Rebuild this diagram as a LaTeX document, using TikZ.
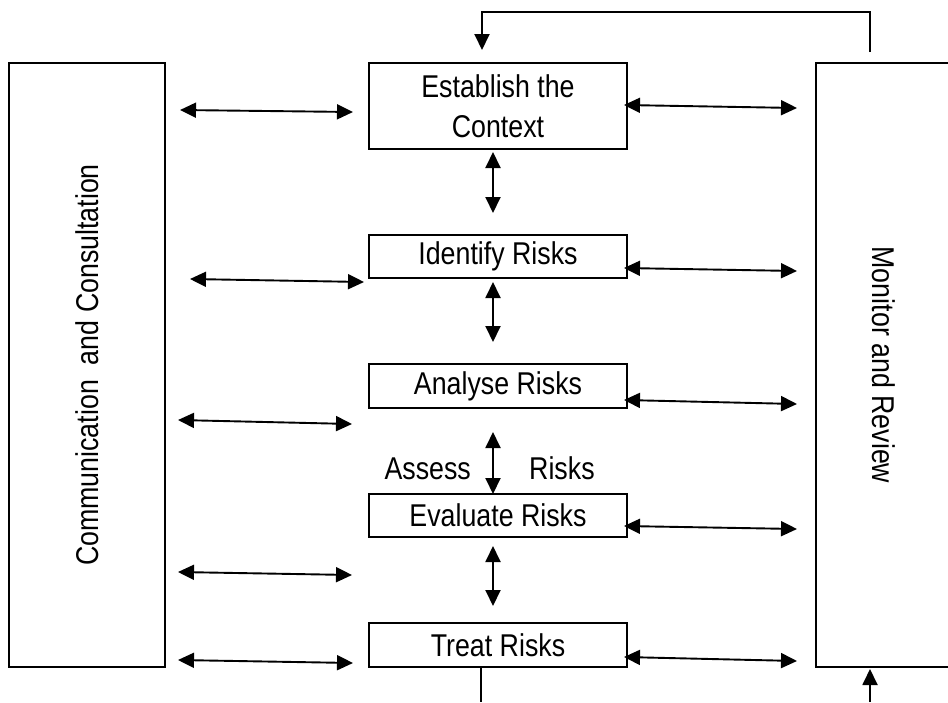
\documentclass[tikz,border=0pt]{standalone}
\usepackage{fontspec}
\setmainfont{Liberation Sans}[FakeStretch=0.85]
\usetikzlibrary{arrows.meta}
\begin{document}
\begin{tikzpicture}[x=1pt,y=-1pt,
  box/.style={draw, line width=1.2pt, inner sep=0pt, align=center, font=\fontsize{31.5}{40}\selectfont},
  lbl/.style={inner sep=0pt, font=\fontsize{31.5}{40}\selectfont},
  arr/.style={line width=1.9pt, {Triangle[length=16pt,width=15pt]}-{Triangle[length=16pt,width=15pt]}},
  onearr/.style={line width=1.9pt, -{Triangle[length=16pt,width=15pt]}},
  plain/.style={line width=1.9pt}]
\useasboundingbox (0,0) rectangle (948,702);
% side boxes
\node[box, rotate=90, minimum width=604pt, minimum height=156pt] (cc) at (87,365) {Communication\ \ and Consultation};
\node[box, rotate=-90, minimum width=604pt, minimum height=136pt] (mr) at (884,365) {Monitor and Review};
% process boxes
\node[box, minimum width=258pt, minimum height=86pt] (est) at (498,106) {Establish the\\Context};
\node[box, minimum width=258pt, minimum height=43pt] (idf) at (498,256.5) {Identify Risks};
\node[box, minimum width=258pt, minimum height=44pt] (ana) at (498,386) {Analyse Risks};
\node[box, minimum width=258pt, minimum height=43pt] (eva) at (498,515.5) {Evaluate Risks};
\node[box, minimum width=258pt, minimum height=44pt] (tre) at (498,645) {Treat Risks};
% assess risks label
\node[lbl, anchor=base east] (assess) at (471,479) {Assess};
\node[lbl, anchor=base west] (risks) at (529,479) {Risks};
% left arrows
\coordinate (l1a) at (180,110); \coordinate (l1b) at (353,112);
\coordinate (l2a) at (190,279); \coordinate (l2b) at (364,282);
\coordinate (l3a) at (178,420); \coordinate (l3b) at (352,424);
\coordinate (l4a) at (178,572); \coordinate (l4b) at (352,575);
\coordinate (l5a) at (178,660); \coordinate (l5b) at (353,663);
\draw[arr] (l1a) -- (l1b);
\draw[arr] (l2a) -- (l2b);
\draw[arr] (l3a) -- (l3b);
\draw[arr] (l4a) -- (l4b);
\draw[arr] (l5a) -- (l5b);
% right arrows
\coordinate (r1a) at (624,105); \coordinate (r1b) at (797,108);
\coordinate (r2a) at (624,268); \coordinate (r2b) at (797,271);
\coordinate (r3a) at (624,400); \coordinate (r3b) at (797,404);
\coordinate (r4a) at (624,526); \coordinate (r4b) at (797,529);
\coordinate (r5a) at (624,657); \coordinate (r5b) at (797,661);
\draw[arr] (r1a) -- (r1b);
\draw[arr] (r2a) -- (r2b);
\draw[arr] (r3a) -- (r3b);
\draw[arr] (r4a) -- (r4b);
\draw[arr] (r5a) -- (r5b);
% vertical arrows
\coordinate (v1a) at (493,152); \coordinate (v1b) at (493,213);
\coordinate (v2a) at (493,282); \coordinate (v2b) at (493,342);
\coordinate (v3a) at (493,432); \coordinate (v3b) at (493,494);
\coordinate (v4a) at (493,546); \coordinate (v4b) at (493,606);
\draw[arr] (v1a) -- (v1b);
\draw[arr] (v2a) -- (v2b);
\draw[arr] (v3a) -- (v3b);
\draw[arr] (v4a) -- (v4b);
% feedback loop
\coordinate (fbs) at (870,52);
\coordinate (fbe) at (482,50);
\draw[onearr] (fbs) -- (870,12) -- (482,12) -- (fbe);
% bottom lines
\coordinate (bt) at (481,702);
\draw[plain] (tre.south -| bt) -- (bt);
\coordinate (bm) at (870,702);
\coordinate (bmt) at (870,669);
\draw[onearr] (bm) -- (bmt);
\end{tikzpicture}
\end{document}
